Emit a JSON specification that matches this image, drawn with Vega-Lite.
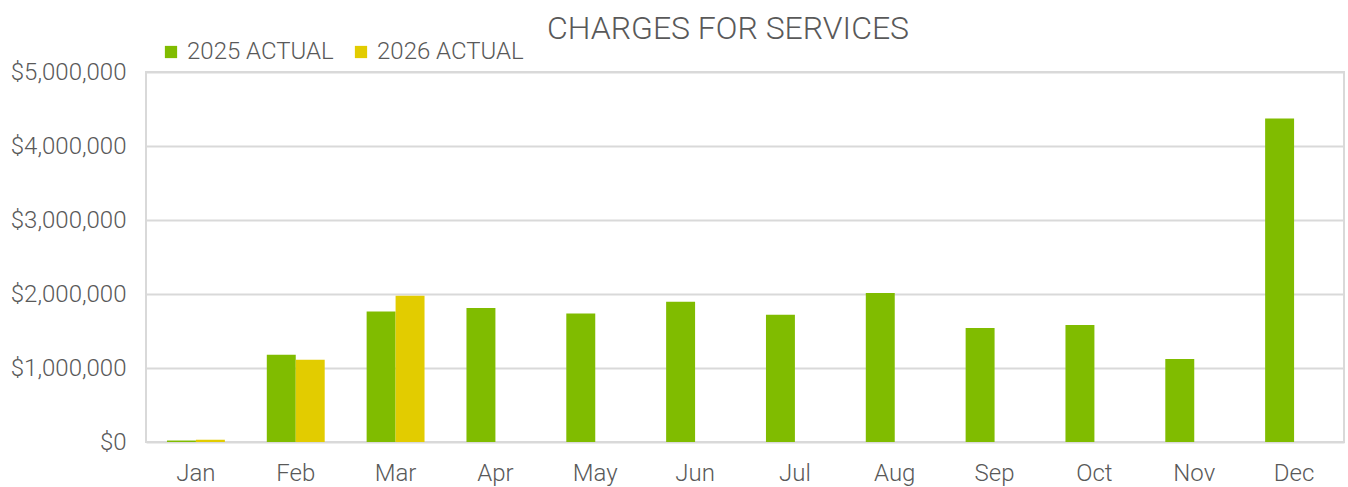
{
  "$schema": "https://vega.github.io/schema/vega-lite/v6.json",
  "width": 1198,
  "height": 370,
  "autosize": {"type": "none"},
  "padding": {"left": 146, "top": 72, "right": 4, "bottom": 45},
  "background": "white",
  "title": {
    "text": "CHARGES FOR SERVICES",
    "font": "Roboto",
    "fontWeight": 300,
    "fontSize": 32,
    "color": "#595959",
    "anchor": "middle",
    "dx": -17,
    "offset": -31,
    "baseline": "alphabetic"
  },
  "data": {
    "values": [
      {"month": "Jan", "series": "2025 ACTUAL", "value": 20000},
      {"month": "Jan", "series": "2026 ACTUAL", "value": 30000},
      {"month": "Feb", "series": "2025 ACTUAL", "value": 1180000},
      {"month": "Feb", "series": "2026 ACTUAL", "value": 1110000},
      {"month": "Mar", "series": "2025 ACTUAL", "value": 1765000},
      {"month": "Mar", "series": "2026 ACTUAL", "value": 1975000},
      {"month": "Apr", "series": "2025 ACTUAL", "value": 1810000},
      {"month": "May", "series": "2025 ACTUAL", "value": 1735000},
      {"month": "Jun", "series": "2025 ACTUAL", "value": 1895000},
      {"month": "Jul", "series": "2025 ACTUAL", "value": 1720000},
      {"month": "Aug", "series": "2025 ACTUAL", "value": 2015000},
      {"month": "Sep", "series": "2025 ACTUAL", "value": 1540000},
      {"month": "Oct", "series": "2025 ACTUAL", "value": 1580000},
      {"month": "Nov", "series": "2025 ACTUAL", "value": 1120000},
      {"month": "Dec", "series": "2025 ACTUAL", "value": 4370000}
    ]
  },
  "mark": {"type": "bar"},
  "encoding": {
    "x": {
      "field": "month",
      "type": "nominal",
      "sort": ["Jan","Feb","Mar","Apr","May","Jun","Jul","Aug","Sep","Oct","Nov","Dec"],
      "scale": {"paddingInner": 0.42, "paddingOuter": 0.21},
      "axis": {
        "title": null,
        "labelAngle": 0,
        "labelFont": "Roboto",
        "labelFontWeight": 300,
        "labelFontSize": 24,
        "labelColor": "#595959",
        "labelPadding": 19,
        "ticks": false,
        "domain": false
      }
    },
    "xOffset": {"field": "series", "type": "nominal", "sort": ["2025 ACTUAL", "2026 ACTUAL"]},
    "y": {
      "field": "value",
      "type": "quantitative",
      "scale": {"domain": [0, 5000000], "nice": false},
      "axis": {
        "title": null,
        "values": [0, 1000000, 2000000, 3000000, 4000000, 5000000],
        "format": "$,.0f",
        "labelFont": "Roboto",
        "labelFontWeight": 300,
        "labelFontSize": 24,
        "labelColor": "#595959",
        "labelPadding": 20,
        "ticks": false,
        "domain": false,
        "gridColor": "#d9d9d9",
        "gridWidth": 2
      }
    },
    "color": {
      "field": "series",
      "type": "nominal",
      "scale": {"domain": ["2025 ACTUAL", "2026 ACTUAL"], "range": ["#80bc00", "#e2cc00"]},
      "legend": {
        "title": null,
        "orient": "none",
        "direction": "horizontal",
        "legendX": 13,
        "legendY": -32,
        "symbolType": "square",
        "symbolSize": 150,
        "symbolStrokeWidth": 0,
        "labelFont": "Roboto",
        "labelFontWeight": 300,
        "labelFontSize": 24,
        "labelColor": "#595959",
        "labelOffset": 4,
        "columnPadding": 15
      }
    }
  },
  "config": {
    "view": {"stroke": "#d9d9d9", "strokeWidth": 2}
  }
}
